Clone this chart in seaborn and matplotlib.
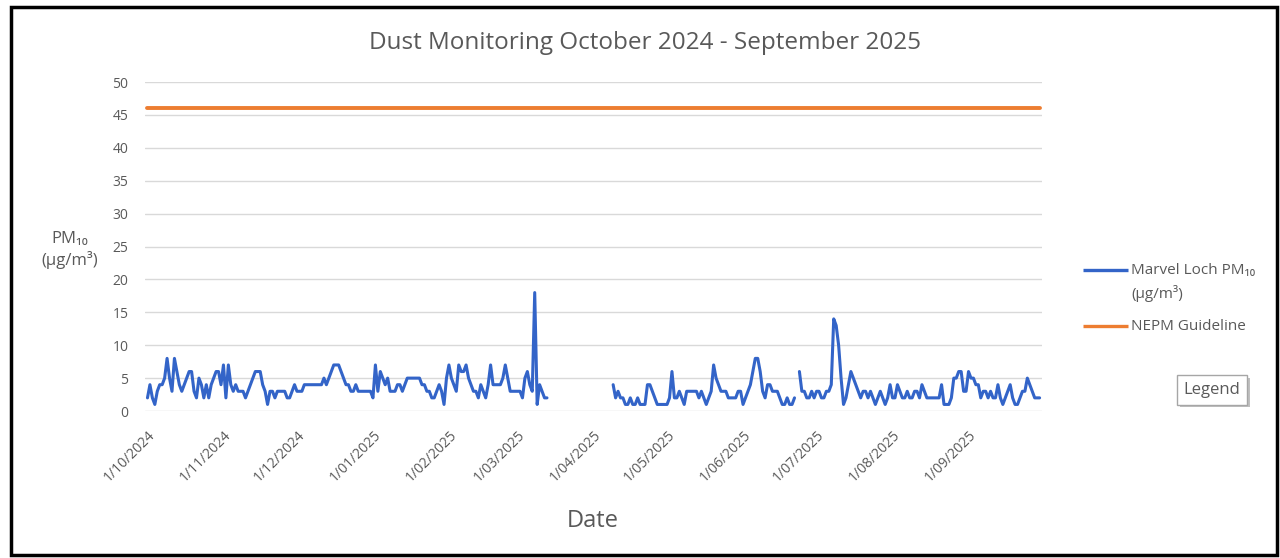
import matplotlib
matplotlib.use("Agg")

import numpy as np
import pandas as pd
import matplotlib.pyplot as plt
import matplotlib.dates as mdates
import matplotlib.patheffects as pe
import matplotlib.transforms as mtransforms
import seaborn as sns
from matplotlib.lines import Line2D
from matplotlib.patches import Rectangle

nan = np.nan

# daily PM10 readings (ug/m3), one list per month, nan = no data
oct_2024 = [2, 4, 2, 1, 3, 4, 4, 5, 8, 5, 3, 8, 6, 4, 3, 4, 5, 6, 6, 3, 2, 5, 4, 2, 4, 2, 4, 5, 6, 6, 4]
nov_2024 = [7, 2, 7, 4, 3, 4, 3, 3, 3, 2, 3, 4, 5, 6, 6, 6, 4, 3, 1, 3, 3, 2, 3, 3, 3, 3, 2, 2, 3, 4]
dec_2024 = [3, 3, 3, 4, 4, 4, 4, 4, 4, 4, 4, 5, 4, 5, 6, 7, 7, 7, 6, 5, 4, 4, 3, 3, 4, 3, 3, 3, 3, 3, 3]
jan_2025 = [2, 7, 3, 6, 5, 4, 5, 3, 3, 3, 4, 4, 3, 4, 5, 5, 5, 5, 5, 5, 4, 4, 3, 3, 2, 2, 3, 4, 3, 1, 5]
feb_2025 = [7, 5, 4, 3, 7, 6, 6, 7, 5, 4, 3, 3, 2, 4, 3, 2, 4, 7, 4, 4, 4, 4, 5, 7, 5, 3, 3, 3]
mar_2025 = [3, 3, 2, 5, 6, 4, 3, 18, 1, 4, 3, 2, 2,
            nan, nan, nan, nan, nan, nan, nan, nan, nan, nan, nan, nan, nan, nan, nan, nan, nan, nan]
apr_2025 = [nan, nan, nan, nan, nan, nan, nan, nan,
            4, 2, 3, 2, 2, 1, 1, 2, 1, 1, 2, 1, 1, 1, 4, 4, 3, 2, 1, 1, 1, 1]
may_2025 = [1, 2, 6, 2, 2, 3, 2, 1, 3, 3, 3, 3, 3, 2, 3, 2, 1, 2, 3, 7, 5, 4, 3, 3, 3, 2, 2, 2, 2, 3, 3]
jun_2025 = [1, 2, 3, 4, 6, 8, 8, 6, 3, 2, 4, 4, 3, 3, 3, 2, 1, 1, 2, 1, 1, 2, nan, 6, 3, 3, 2, 2, 3, 2]
jul_2025 = [3, 3, 2, 2, 3, 3, 4, 14, 13, 10, 5, 1, 2, 4, 6, 5, 4, 3, 2, 3, 3, 2, 3, 2, 1, 2, 3, 2, 1, 2, 4]
aug_2025 = [2, 2, 4, 3, 2, 2, 3, 2, 2, 3, 3, 2, 4, 3, 2, 2, 2, 2, 2, 2, 4, 1, 1, 1, 2, 5, 5, 6, 6, 3, 3]
sep_2025 = [6, 5, 5, 4, 4, 2, 3, 3, 2, 3, 2, 2, 4, 2, 1, 2, 3, 4, 2, 1, 1, 2, 3, 3, 5, 4, 3, 2, 2, 2]

nepm_guideline = 46

start_date = "2024-10-01"
end_date = "2025-09-30"

series_labels = ["Marvel Loch PM\u2081\u2080", "(\u00b5g/m\u00b3)", "NEPM Guideline"]

blue = "#3364C8"
orange = "#ED7D31"
grey_text = "#595959"

sns.set_theme(style="white")
plt.rcParams["font.family"] = ["Open Sans", "DejaVu Sans"]

pm10 = (oct_2024 + nov_2024 + dec_2024 + jan_2025 + feb_2025 + mar_2025
        + apr_2025 + may_2025 + jun_2025 + jul_2025 + aug_2025 + sep_2025)
dates = pd.date_range(start_date, end_date, freq="D")

df = pd.DataFrame({"date": dates, "pm10": pm10})
df["segment"] = df["pm10"].isna().cumsum()
df = df.dropna()

guide = pd.DataFrame({"date": dates, "nepm": nepm_guideline})

fig = plt.figure(figsize=(12.8, 5.58), dpi=100)
ax = fig.add_axes([0.1133, 0.2634, 0.7008, 0.5896])

sns.lineplot(data=df, x="date", y="pm10", units="segment", estimator=None,
             color=blue, linewidth=2.2, ax=ax)
sns.lineplot(data=guide, x="date", y="nepm", color=orange, linewidth=2.8, ax=ax)

ax.set_xlim(pd.Timestamp(start_date) - pd.Timedelta(days=1),
            pd.Timestamp(end_date) + pd.Timedelta(days=1))
ax.set_ylim(0, 50)
ax.set_yticks(range(0, 51, 5))
ax.yaxis.grid(True, color="#D9D9D9", linewidth=1)
ax.set_axisbelow(True)
for side in ax.spines.values():
    side.set_visible(False)

ax.set_xticks(pd.date_range(start_date, end_date, freq="MS"))
ax.xaxis.set_major_formatter(mdates.DateFormatter("%-d/%m/%Y"))
ax.tick_params(axis="x", length=0, pad=16, labelsize=10, labelcolor=grey_text)
ax.tick_params(axis="y", length=0, pad=12, labelsize=10, labelcolor=grey_text)
shift = mtransforms.ScaledTranslation(4 / 72, 0, fig.dpi_scale_trans)
for lab in ax.get_xticklabels():
    lab.set_rotation(45)
    lab.set_ha("right")
    lab.set_va("center")
    lab.set_rotation_mode("anchor")
    lab.set_transform(lab.get_transform() + shift)

ax.set_xlabel("")
ax.set_ylabel("")

fig.text(0.504, 1 - 43 / 558, "Dust Monitoring October 2024 - September 2025",
         ha="center", va="center", fontsize=17.5, color=grey_text)
fig.text(593 / 1280, 1 - 521 / 558, "Date", ha="center", va="center", fontsize=17,
         color=grey_text)
fig.text(70 / 1280, 1 - 250 / 558, "PM\u2081\u2080\n(\u00b5g/m\u00b3)", ha="center", va="center",
         fontsize=12, color=grey_text, linespacing=1.3)

# legend drawn by hand so the blue key sits on the first text line
x0, x1, xt = 1083 / 1280, 1128 / 1280, 1131 / 1280
for y, col in [(1 - 270 / 558, blue), (1 - 326 / 558, orange)]:
    fig.add_artist(Line2D([x0, x1], [y, y], transform=fig.transFigure, color=col,
                          linewidth=2.4, solid_capstyle="butt"))
fig.text(xt, 1 - 270 / 558, series_labels[0], ha="left", va="center", fontsize=11,
         color=grey_text)
fig.text(xt, 1 - 294 / 558, series_labels[1], ha="left", va="center", fontsize=11,
         color=grey_text)
fig.text(xt, 1 - 326 / 558, series_labels[2], ha="left", va="center", fontsize=11,
         color=grey_text)

# small "Legend" tag with drop shadow
tag = fig.text(1212 / 1280, 1 - 390 / 558, "Legend", ha="center", va="center",
               fontsize=12, color=grey_text,
               bbox=dict(boxstyle="square,pad=0.4", fc="white", ec="#A6A6A6", lw=1))
tag.get_bbox_patch().set_path_effects([pe.withSimplePatchShadow(offset=(2, -2),
                                                               shadow_rgbFace="#BFBFBF",
                                                               alpha=1.0)])

# black frame around the screenshot
fig.patches.append(Rectangle((11 / 1280, 3 / 558), 1266 / 1280, 548 / 558,
                             transform=fig.transFigure, fill=False,
                             edgecolor="black", linewidth=2.5))

fig.savefig("out.png", dpi=100)
plt.close(fig)
